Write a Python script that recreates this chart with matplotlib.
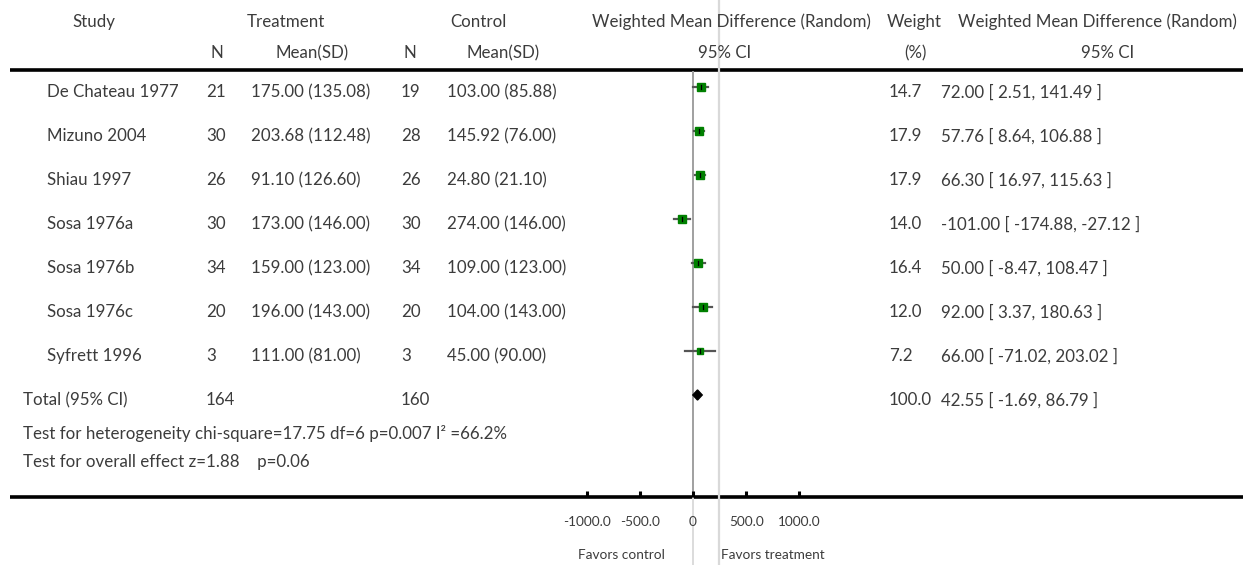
import numpy as np
import matplotlib
matplotlib.use("Agg")
import matplotlib.pyplot as plt
from matplotlib.patches import Polygon

# ── data ────────────────────────────────────────────────────────────────────
studies    = ["De Chateau 1977", "Mizuno 2004", "Shiau 1997", "Sosa 1976a",
              "Sosa 1976b", "Sosa 1976c", "Syfrett 1996"]
n_trt      = [21, 30, 26, 30, 34, 20, 3]
mean_trt   = ["175.00 (135.08)", "203.68 (112.48)", "91.10 (126.60)", "173.00 (146.00)",
              "159.00 (123.00)", "196.00 (143.00)", "111.00 (81.00)"]
n_ctl      = [19, 28, 26, 30, 34, 20, 3]
mean_ctl   = ["103.00 (85.88)", "145.92 (76.00)", "24.80 (21.10)", "274.00 (146.00)",
              "109.00 (123.00)", "104.00 (143.00)", "45.00 (90.00)"]
wmd        = [72.00, 57.76, 66.30, -101.00, 50.00, 92.00, 66.00]
ci_lo      = [2.51, 8.64, 16.97, -174.88, -8.47, 3.37, -71.02]
ci_hi      = [141.49, 106.88, 115.63, -27.12, 108.47, 180.63, 203.02]
weights    = [14.7, 17.9, 17.9, 14.0, 16.4, 12.0, 7.2]

total_n_trt = 164
total_n_ctl = 160
total_wmd, total_lo, total_hi = 42.55, -1.69, 86.79
total_weight = 100.0

het_text     = "Test for heterogeneity chi-square=17.75 df=6 p=0.007 I² =66.2%"
overall_text = "Test for overall effect z=1.88    p=0.06"
ticks        = [-1000, -500, 0, 500, 1000]
tick_labels  = ["-1000.0", "-500.0", "0", "500.0", "1000.0"]

# ── layout (pixels) ─────────────────────────────────────────────────────────
W, H = 1253, 565
X0, SCALE = 693.0, 0.1063        # pixel of zero, pixels per unit
ROW0, ROWSTEP = 87.0, 44.0       # pixel y of first study row, row spacing
TXT = "#3c3c3c"
plt.rcParams["font.family"] = ["Lato", "DejaVu Sans"]
FS = 12.2
FS_SMALL = 9.8

fig = plt.figure(figsize=(W / 100, H / 100), dpi=100)
ax = fig.add_axes([0, 0, 1, 1])
ax.set_xlim(0, W)
ax.set_ylim(H, 0)
ax.axis("off")

# forest axes: x in effect units, y in row units
fx = fig.add_axes([0, 0, 1, 1])
fx.set_xlim((0 - X0) / SCALE, (W - X0) / SCALE)
fx.set_ylim((H - ROW0) / ROWSTEP, (0 - ROW0) / ROWSTEP)
fx.axis("off")
fx.patch.set_alpha(0)


def t(x, y, s, ha="left", fs=FS):
    ax.text(x, y, s, ha=ha, va="center", fontsize=fs, color=TXT)


# headers
t(94, 22, "Study", "center")
t(286, 22, "Treatment", "center")
t(478, 22, "Control", "center")
t(731, 22, "Weighted Mean Difference (Random)", "center")
t(914, 22, "Weight", "center")
t(1097, 22, "Weighted Mean Difference (Random)", "center")
t(217, 53, "N", "center")
t(312, 53, "Mean(SD)", "center")
t(410, 53, "N", "center")
t(503, 53, "Mean(SD)", "center")
t(725, 53, "95% CI", "center")
t(915, 53, "(%)", "center")
t(1108, 53, "95% CI", "center")

# rules and reference lines
ax.plot([10, 1243], [70, 70], color="black", lw=2.6, solid_capstyle="butt")
ax.plot([10, 1243], [497, 497], color="black", lw=2.6, solid_capstyle="butt")
ax.plot([719, 719], [0, H], color="#d9d9d9", lw=1.6)
ax.plot([X0, X0], [497, H], color="#dcdcdc", lw=1.4)
fx.plot([0, 0], [(72 - ROW0) / ROWSTEP, (497 - ROW0) / ROWSTEP], color="#a0a0a0", lw=1.4)

# study rows
for i, name in enumerate(studies):
    y = ROW0 + ROWSTEP * i + 5
    t(47, y, name)
    t(206, y, str(n_trt[i]))
    t(251, y, mean_trt[i])
    t(401, y, str(n_ctl[i]))
    t(447, y, mean_ctl[i])
    t(889, y, f"{weights[i]:.1f}")
    t(941, y, f"{wmd[i]:.2f} [ {ci_lo[i]:.2f}, {ci_hi[i]:.2f} ]")

    fx.plot([ci_lo[i], ci_hi[i]], [i, i], color="#555555", lw=1.6, zorder=2)
    side = 2.1 * np.sqrt(weights[i])
    fx.plot(wmd[i], i, marker="s", ms=side * 0.72, color="#008000",
            mec="#008000", ls="none", zorder=3)
    fx.plot([wmd[i], wmd[i]], [i - 0.05, i + 0.05], color="black", lw=0.9, zorder=4)

# total row
k = len(studies)
ty = ROW0 + ROWSTEP * k + 5
t(23, ty, "Total (95% CI)")
t(206, ty, str(total_n_trt))
t(401, ty, str(total_n_ctl))
t(889, ty, f"{total_weight:.1f}")
t(941, ty, f"{total_wmd:.2f} [ {total_lo:.2f}, {total_hi:.2f} ]")
fx.add_patch(Polygon([[total_lo, k], [total_wmd, k - 0.115], [total_hi, k],
                      [total_wmd, k + 0.115]], closed=True, color="black", zorder=3))

t(23, 433, het_text)
t(23, 462, overall_text)

# axis ticks and labels
yb = (497 - ROW0) / ROWSTEP
for v, lab in zip(ticks, tick_labels):
    fx.plot([v, v], [yb, yb - 6 / ROWSTEP], color="black", lw=2.2, solid_capstyle="butt")
    fx.text(v, (522 - ROW0) / ROWSTEP, lab, ha="center", va="center",
            fontsize=FS_SMALL, color=TXT)

t(665, 555, "Favors control", "right", FS_SMALL)
t(721, 555, "Favors treatment", "left", FS_SMALL)

fig.savefig("out.png", dpi=100)
